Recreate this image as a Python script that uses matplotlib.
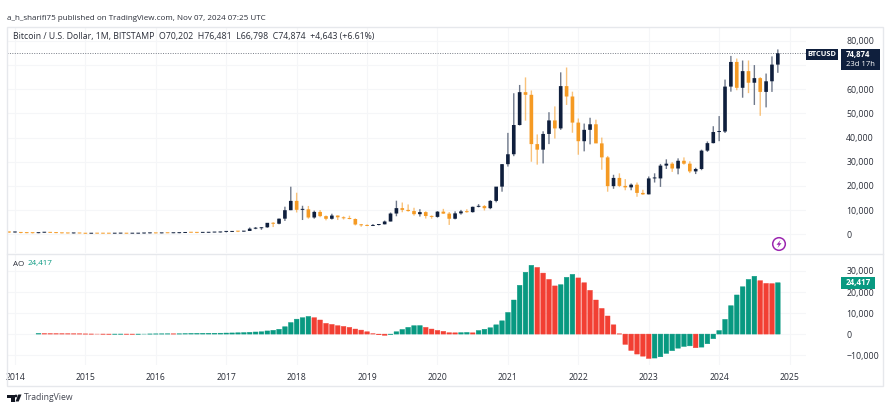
import matplotlib
matplotlib.use("Agg")
import matplotlib.pyplot as plt
from matplotlib.patches import Circle, Polygon, Rectangle

plt.rcParams["font.family"] = ["Open Sans", "DejaVu Sans"]

# monthly candles, first one is 2013-12
opens = [1130, 730, 805, 550, 455, 445, 630, 640, 580, 480, 390, 340, 375,
         320, 215, 255, 245, 235, 230, 263, 284, 230, 236, 315, 377,
         430, 368, 437, 416, 448, 530, 675, 624, 575, 610, 700, 745,
         965, 965, 1190, 1080, 1350, 2300, 2480, 2860, 4720, 4340, 6440, 9950,
         13800, 10100, 10300, 6920, 9240, 7490, 6390, 7730, 7010, 6600, 6300, 4020,
         3700, 3440, 3820, 4100, 5260, 8570, 10800, 10070, 9590, 8300, 9150, 7540,
         7180, 9340, 8530, 6410, 8640, 9450, 9140, 11350, 11650, 10780, 13800, 19700,
         29000, 33100, 45200, 58800, 57700, 37300, 35000, 41500, 47100, 43800, 61300, 57000,
         46200, 38500, 43200, 45500, 37600, 31800, 19900, 23300, 20000, 19400, 20500, 17100,
         16500, 23100, 23100, 28400, 29200, 27200, 30400, 29200, 26000, 27000, 34600, 37700,
         42300, 42500, 61100, 71300, 60600, 67500, 62700, 64600, 58900, 63300, 70202]
highs = [1163, 1020, 810, 710, 540, 630, 680, 660, 600, 490, 415, 450, 385,
         320, 265, 300, 265, 245, 270, 318, 285, 245, 335, 495, 470,
         465, 448, 443, 470, 550, 780, 705, 625, 630, 735, 755, 980,
         1150, 1200, 1280, 1350, 2790, 2990, 2900, 4480, 4980, 6450, 11400, 19666,
         17170, 11780, 11700, 9760, 10000, 7770, 8480, 7740, 7400, 7670, 6550, 4240,
         4070, 4200, 4100, 5640, 9000, 13880, 13130, 12320, 10950, 10370, 9500, 7750,
         9580, 10500, 9180, 9470, 10070, 10350, 11420, 12470, 12070, 14100, 19500, 29000,
         41950, 58350, 61780, 64900, 59500, 41300, 42600, 50500, 52900, 67000, 69000, 59000,
         47900, 45800, 48200, 47400, 40000, 32400, 24600, 25200, 22800, 21000, 21400, 18400,
         23900, 25200, 29100, 31000, 29800, 31400, 31800, 30200, 27500, 35000, 38400, 44700,
         48900, 64000, 73800, 72700, 71900, 71900, 70000, 65000, 66500, 73600, 76481]
lows = [522, 730, 400, 440, 340, 430, 530, 565, 440, 360, 275, 320, 305,
        150, 210, 235, 215, 225, 220, 253, 200, 225, 235, 300, 345,
        350, 363, 395, 415, 435, 525, 605, 465, 570, 605, 685, 740,
        750, 915, 890, 1070, 1350, 2080, 1830, 2680, 2970, 4110, 5500, 9950,
        9000, 5880, 6430, 6430, 7050, 5750, 6070, 5880, 6100, 6200, 3650, 3120,
        3350, 3390, 3650, 4100, 5330, 7430, 9100, 9350, 7700, 7300, 6500, 6430,
        6850, 8450, 3850, 6150, 8110, 8900, 8970, 11120, 9820, 10370, 13200, 17600,
        28000, 32300, 45000, 47000, 30000, 28800, 29300, 37300, 39600, 43200, 53500, 42000,
        32900, 34300, 37200, 37700, 26700, 17600, 18800, 19500, 18200, 18200, 15500, 16300,
        16500, 21400, 19600, 27000, 25800, 24800, 28800, 25300, 24900, 26500, 34100, 37600,
        38500, 41900, 59000, 59600, 56500, 58400, 53500, 49000, 52500, 58900, 66798]
closes = [730, 805, 550, 455, 445, 630, 640, 580, 480, 390, 340, 375, 320,
          215, 255, 245, 235, 230, 263, 284, 230, 236, 315, 377, 430,
          368, 437, 416, 448, 530, 675, 624, 575, 610, 700, 745, 965,
          965, 1190, 1080, 1350, 2300, 2480, 2860, 4720, 4340, 6440, 9950, 13800,
          10100, 10300, 6920, 9240, 7490, 6390, 7730, 7010, 6600, 6300, 4020, 3700,
          3440, 3820, 4100, 5260, 8570, 10800, 10070, 9590, 8300, 9150, 7540, 7180,
          9340, 8530, 6410, 8640, 9450, 9140, 11350, 11650, 10780, 13800, 19700, 29000,
          33100, 45200, 58800, 57700, 37300, 35000, 41500, 47100, 43800, 61300, 57000, 46200,
          38500, 43200, 45500, 37600, 31800, 19900, 23300, 20000, 19400, 20500, 17100, 16500,
          23100, 23100, 28400, 29200, 27200, 30400, 29200, 26000, 27000, 34600, 37700, 42300,
          42500, 61100, 71300, 60600, 67500, 62700, 64600, 58900, 63300, 70202, 74874]

# AO from 2014-05 to 2024-11
ao = [280, 220, 190, 170, 150, 130, 120, 110,
      60, 20, 0, -20, -40, -30, -20, -30, -40, -30, 0, 50,
      80, 100, 110, 100, 110, 200, 300, 330, 350, 380, 400, 430,
      500, 550, 620, 720, 850, 1000, 1100, 1500, 1800, 2300, 3500, 5500,
      7100, 7800, 8400, 7800, 6700, 5100, 4600, 4000, 3650, 3200, 2400, 1900,
      1100, 150, -300, -600, -100, 1100, 2200, 3200, 4000, 4050, 3200, 2400,
      1750, 1300, 650, 600, 700, 800, 600, 1700, 2300, 3000, 4400, 6300,
      10300, 16200, 23200, 29400, 32700, 31700, 29000, 26000, 22900, 23500, 27000, 28400,
      26700, 24400, 20800, 16200, 12200, 8600, 4400, 100, -4900, -7800, -9500, -10500,
      -11600, -11400, -10800, -9200, -7900, -6700, -5900, -5600, -6500, -6200, -4600, -2200,
      1700, 7000, 13500, 18600, 22500, 26000, 27500, 25400, 24100, 24000, 24417]

price_ticks = [0, 10000, 20000, 30000, 40000, 50000, 60000, 70000, 80000]
ao_ticks = [-10000, 0, 10000, 20000, 30000]
years = [2014, 2015, 2016, 2017, 2018, 2019, 2020, 2021, 2022, 2023, 2024, 2025]

NAVY = "#0f1f3d"
ORANGE = "#f59a23"
TEAL = "#089981"
RED = "#f23f33"
GRID = "#f5f6f8"
BORDER = "#e6e8ec"
TXT = "#2a2e39"

W, H = 890, 420


def px_axes(x0, y0, x1, y1):
    return fig.add_axes([x0 / W, 1 - y1 / H, (x1 - x0) / W, (y1 - y0) / H])


fig = plt.figure(figsize=(W / 100, H / 100), dpi=100)
ax = px_axes(7, 28, 806, 253)
ax2 = px_axes(7, 255, 806, 365)

# month index, 0 = 2014-01, is 5.87 px wide
xlim = (-1.36, 134.8)
for a in (ax, ax2):
    a.set_xlim(*xlim)
    a.set_xticks([(y - 2014) * 12 for y in years])
    a.grid(True, color=GRID, lw=0.8)
    a.set_axisbelow(True)
    a.tick_params(length=0)
    a.yaxis.tick_right()
    for s in a.spines.values():
        s.set_visible(False)

ax.set_ylim(-7770, 85350)
ax.set_yticks(price_ticks)
# the 70,000 label sits behind the price tag in the original
ax.set_yticklabels(["" if v == 70000 else f"{v:,}" for v in price_ticks], fontsize=6.3, color=TXT)
ax.tick_params(axis="y", pad=29)
ax.tick_params(axis="x", labelbottom=False)

months = list(range(-1, len(opens) - 1))
for m, o, h, l, c in zip(months, opens, highs, lows, closes):
    col = NAVY if c >= o else ORANGE
    ax.plot([m, m], [l, h], color=col, lw=1.0, alpha=0.6, solid_capstyle="butt", zorder=2, snap=False)
    ax.bar(m, max(abs(c - o), 400), bottom=min(o, c), width=0.62, color=col, zorder=3, snap=False)

ax.axhline(closes[-1], color="#777c86", lw=0.7, ls=(0, (1, 1.5)), zorder=1)

ax2.set_ylim(-14700, 37600)
ax2.set_yticks(ao_ticks)
ax2.set_yticklabels([f"{v:,}".replace("-", "\u2212") for v in ao_ticks], fontsize=6.3, color=TXT)
ax2.tick_params(axis="y", pad=29)
ax2.set_xticklabels([str(y) for y in years], fontsize=6.2, color=TXT)
ax2.tick_params(axis="x", pad=6)

ao_x = list(range(4, 4 + len(ao)))
ao_cols = [TEAL]
for prev, cur in zip(ao, ao[1:]):
    ao_cols.append(TEAL if cur >= prev else RED)
ax2.bar(ao_x, ao, width=0.8, color=ao_cols, edgecolor=ao_cols, linewidth=0.3, zorder=3, snap=False)

# frame around the panes, tags and header live in figure pixels
over = fig.add_axes([0, 0, 1, 1], zorder=10)
over.set_xlim(0, W)
over.set_ylim(H, 0)
over.axis("off")
over.add_patch(Rectangle((7, 27), 876, 359, fill=False, ec=BORDER, lw=1))
over.plot([7, 883], [253.5, 253.5], color=BORDER, lw=1)

over.text(7, 18.5, "a_h_sharifi75 published on TradingView.com, Nov 07, 2024 07:25 UTC",
          fontsize=5.8, color=TXT, va="center")
over.text(13, 37, "Bitcoin / U.S. Dollar, 1M, BITSTAMP  O70,202  H76,481  L66,798  C74,874  +4,643 (+6.61%)",
          fontsize=6.3, color=TXT, va="center")
over.text(13, 264, "AO", fontsize=5.8, color=TXT, va="center")
over.text(28, 264, "24,417", fontsize=5.8, color=TEAL, va="center")

over.add_patch(Rectangle((806, 49), 32, 11, fc=NAVY, ec="none"))
over.text(822, 54.8, "BTCUSD", fontsize=5.4, color="white", weight="bold", ha="center", va="center")
over.add_patch(Rectangle((841, 49), 39, 21, fc=NAVY, ec="none"))
over.text(846, 54.5, "74,874", fontsize=5.6, color="white", weight="bold", va="center")
over.text(846, 64, "23d 17h", fontsize=5.5, color="white", va="center")
over.add_patch(Rectangle((841, 277), 34, 12, fc=TEAL, ec="none"))
over.text(858, 283, "24,417", fontsize=5.8, color="white", weight="bold", ha="center", va="center")

# lightning icon
over.add_patch(Circle((779, 244), 6.3, fill=False, ec="#9c27b0", lw=1.1))
over.add_patch(Polygon([(780.5, 240), (776.5, 244.8), (778.8, 244.8), (777.5, 248),
                        (781.5, 243.2), (779.2, 243.2)], fc="#9c27b0", ec="none"))

# TradingView logo
over.add_patch(Polygon([(7, 394.5), (14.5, 394.5), (14.5, 401.5), (10.5, 401.5), (10.5, 398), (7, 398)], fc="#131722", ec="none"))
over.add_patch(Circle((16, 396), 1.4, fc="#131722", ec="none"))
over.add_patch(Polygon([(15.5, 401.5), (18.3, 394.5), (21.5, 394.5), (18.7, 401.5)], fc="#131722", ec="none"))
over.text(23.5, 398, "TradingView", fontsize=6.2, color="#434651", va="center")

fig.savefig("out.png", dpi=100, facecolor="white")
